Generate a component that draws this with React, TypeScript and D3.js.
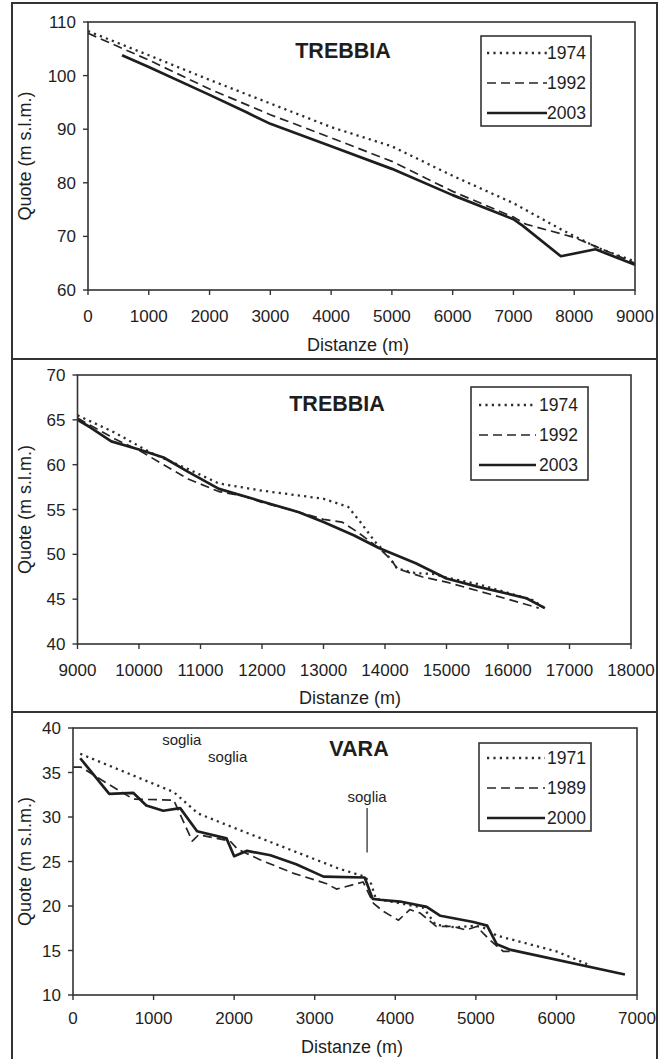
import React from 'react';
import * as d3 from 'd3';

// Trebbia, first reach (0-9000 m)
const t1Dist1974 = [0, 1000, 2000, 3000, 4000, 5000, 6000, 7000, 7800, 8400, 9000];
const t1Quote1974 = [108.3, 103.8, 99.2, 94.8, 90.4, 86.8, 81.3, 76.2, 71.2, 67.8, 65.3];
const t1Dist1992 = [0, 1000, 2000, 3000, 4000, 5000, 6000, 7000, 7200, 8000, 8400, 9000];
const t1Quote1992 = [107.9, 102.9, 97.5, 92.7, 88.4, 84.0, 78.4, 73.6, 72.3, 69.8, 67.9, 65.0];
const t1Dist2003 = [560, 1000, 2000, 2600, 3000, 4000, 5000, 6000, 7000, 7150, 7780, 8350, 9000];
const t1Quote2003 = [103.8, 101.6, 96.4, 93.2, 91.0, 86.8, 82.6, 77.7, 73.2, 72.0, 66.3, 67.6, 64.7];

// Trebbia, second reach (9000-18000 m)
const t2Dist1974 = [9000, 9600, 10200, 10800, 11300, 12000, 13000, 13400, 13600, 13850, 14000, 14200, 14500, 14800, 15000, 15500, 16000, 16400, 16600];
const t2Quote1974 = [65.5, 63.6, 61.3, 59.5, 57.9, 57.1, 56.2, 55.3, 53.6, 51.3, 50.3, 48.4, 47.9, 47.8, 47.4, 46.7, 45.7, 44.9, 44.0];
const t2Dist1992 = [9000, 9600, 10000, 10400, 10800, 11300, 11700, 12000, 12500, 13000, 13300, 13550, 13900, 14100, 14200, 14600, 15000, 16000, 16500];
const t2Quote1992 = [65.2, 62.9, 61.6, 60.0, 58.4, 57.0, 56.5, 55.8, 54.9, 53.9, 53.6, 52.5, 50.7, 49.4, 48.4, 47.5, 46.9, 45.0, 44.0];
const t2Dist2003 = [9000, 9200, 9550, 10000, 10400, 10800, 11300, 12000, 12600, 13000, 13500, 13900, 14500, 15000, 15500, 16000, 16300, 16600];
const t2Quote2003 = [65.0, 64.2, 62.6, 61.7, 60.8, 59.2, 57.3, 55.9, 54.7, 53.6, 52.1, 50.7, 49.0, 47.3, 46.4, 45.6, 45.1, 44.0];

// Vara
const vDist1971 = [90, 1250, 1550, 2050, 3300, 3620, 3700, 3760, 4000, 4350, 4500, 4750, 5000, 5150, 5250, 6000, 6400];
const vQuote1971 = [37.1, 32.8, 30.4, 28.6, 24.2, 23.3, 22.5, 20.8, 20.4, 19.8, 17.9, 17.6, 17.8, 17.4, 16.7, 14.9, 13.4];
const vDist1989 = [0, 100, 330, 750, 1250, 1480, 1560, 1950, 2040, 2320, 2730, 3150, 3270, 3480, 3600, 3730, 3850, 4040, 4180, 4310, 4510, 4720, 4880, 5010, 5170, 5340, 5450];
const vQuote1989 = [35.6, 35.6, 34.3, 32.0, 31.9, 27.3, 28.0, 27.3, 26.4, 25.2, 23.7, 22.5, 21.9, 22.4, 22.7, 20.3, 19.4, 18.4, 19.6, 19.2, 17.7, 17.7, 17.3, 17.7, 16.2, 14.9, 14.9];
const vDist2000 = [90, 450, 750, 910, 1120, 1330, 1540, 1905, 2000, 2160, 2450, 2770, 3110, 3620, 3720, 3810, 4060, 4390, 4560, 4970, 5140, 5260, 5420, 6850];
const vQuote2000 = [36.6, 32.6, 32.7, 31.3, 30.7, 31.0, 28.4, 27.6, 25.6, 26.2, 25.7, 24.7, 23.3, 23.2, 20.8, 20.7, 20.5, 19.9, 18.9, 18.2, 17.8, 15.7, 15.1, 12.3];

const trebbiaYears = ['1974', '1992', '2003'];
const varaYears = ['1971', '1989', '2000'];

const xTicks1 = [0, 1000, 2000, 3000, 4000, 5000, 6000, 7000, 8000, 9000];
const yTicks1 = [60, 70, 80, 90, 100, 110];
const xTicks2 = [9000, 10000, 11000, 12000, 13000, 14000, 15000, 16000, 17000, 18000];
const yTicks2 = [40, 45, 50, 55, 60, 65, 70];
const xTicks3 = [0, 1000, 2000, 3000, 4000, 5000, 6000, 7000];
const yTicks3 = [10, 15, 20, 25, 30, 35, 40];

// soglia labels: [distance, quote]
const sogliaLabels = [[1350, 38.1], [1920, 36.2], [3650, 31.7]];
const sogliaMarker = [3650, 31.0, 26.0];

const INK = '#1e1e1e';
const FONT = 'Liberation Sans, Arial, sans-serif';

const styles = [
  { dash: '2.2 4.2', width: 2.3, color: '#2e2e2e' },
  { dash: '9 5', width: 1.7, color: '#262626' },
  { dash: undefined, width: 2.7, color: INK },
];

type Series = { dist: number[]; quote: number[] };

interface PanelProps {
  left: number; right: number; top: number; bottom: number;
  xDomain: [number, number]; yDomain: [number, number];
  xTicks: number[]; yTicks: number[];
  title: string; titleX: number; titleY: number;
  series: Series[]; years: string[];
  legend: { x0: number; x1: number; y0: number; y1: number; lineX0: number; lineX1: number; textX: number; rows: number[] };
  tickY: number; labelY: number; labelX: number;
  children?: (x: d3.ScaleLinear<number, number>, y: d3.ScaleLinear<number, number>) => React.ReactNode;
}

const Panel: React.FC<PanelProps> = (p) => {
  const x = d3.scaleLinear().domain(p.xDomain).range([p.left, p.right]);
  const y = d3.scaleLinear().domain(p.yDomain).range([p.bottom, p.top]);
  const line = d3.line<[number, number]>().x((d) => x(d[0])).y((d) => y(d[1]));
  const midY = (p.top + p.bottom) / 2;
  return (
    <g>
      {p.series.map((s, i) => (
        <path
          key={i}
          d={line(s.dist.map((d, j) => [d, s.quote[j]] as [number, number])) || ''}
          fill="none"
          stroke={styles[i].color}
          strokeWidth={styles[i].width}
          strokeDasharray={styles[i].dash}
          strokeLinejoin="round"
        />
      ))}
      <rect x={p.left} y={p.top} width={p.right - p.left} height={p.bottom - p.top} fill="none" stroke="#333" strokeWidth={1.6} />
      {p.xTicks.map((t) => (
        <g key={t}>
          <line x1={x(t)} x2={x(t)} y1={p.bottom} y2={p.bottom + 5} stroke="#333" strokeWidth={1.4} />
          <text x={x(t)} y={p.tickY} textAnchor="middle" fontSize={17} fill={INK}>{t}</text>
        </g>
      ))}
      {p.yTicks.map((t) => (
        <g key={t}>
          <line x1={p.left - 5} x2={p.left} y1={y(t)} y2={y(t)} stroke="#333" strokeWidth={1.4} />
          <text x={p.left - 12} y={y(t) + 6} textAnchor="end" fontSize={17} fill={INK}>{t}</text>
        </g>
      ))}
      <text x={p.labelX} y={p.labelY} textAnchor="middle" fontSize={18} fill={INK}>Distanze (m)</text>
      <text transform={`translate(31,${midY}) rotate(-90)`} textAnchor="middle" fontSize={18} fill={INK}>Quote (m s.l.m.)</text>
      <text x={p.titleX} y={p.titleY + 8} textAnchor="middle" fontSize={21.5} fontWeight="bold" fill={INK}>{p.title}</text>
      <rect x={p.legend.x0} y={p.legend.y0} width={p.legend.x1 - p.legend.x0} height={p.legend.y1 - p.legend.y0} fill="#fff" stroke="#333" strokeWidth={1.6} />
      {p.years.map((yr, i) => (
        <g key={yr}>
          <line x1={p.legend.lineX0} x2={p.legend.lineX1} y1={p.legend.rows[i]} y2={p.legend.rows[i]} stroke={styles[i].color} strokeWidth={styles[i].width} strokeDasharray={styles[i].dash} />
          <text x={p.legend.textX} y={p.legend.rows[i] + 6} fontSize={17.5} fill={INK}>{yr}</text>
        </g>
      ))}
      {p.children && p.children(x, y)}
    </g>
  );
};

export default function App() {
  return (
    <div style={{ position: 'absolute', left: 0, top: 0 }}>
      <svg width={664} height={1059} style={{ display: 'block', fontFamily: FONT }}>
        <rect width={664} height={1059} fill="#fff" />
        <rect x={12} y={3} width={645} height={1070} fill="none" stroke="#333" strokeWidth={2} />
        <line x1={12} x2={657} y1={359} y2={359} stroke="#333" strokeWidth={2} />
        <line x1={12} x2={657} y1={712} y2={712} stroke="#333" strokeWidth={2} />

        <Panel
          left={88} right={635} top={22} bottom={290}
          xDomain={[0, 9000]} yDomain={[60, 110]}
          xTicks={xTicks1} yTicks={yTicks1}
          title="TREBBIA" titleX={343} titleY={50}
          series={[
            { dist: t1Dist1974, quote: t1Quote1974 },
            { dist: t1Dist1992, quote: t1Quote1992 },
            { dist: t1Dist2003, quote: t1Quote2003 },
          ]}
          years={trebbiaYears}
          legend={{ x0: 481, x1: 591, y0: 36, y1: 126, lineX0: 487, lineX1: 547, textX: 547, rows: [53, 83, 113] }}
          tickY={322} labelY={351} labelX={358}
        />

        <Panel
          left={77.5} right={631} top={375} bottom={644}
          xDomain={[9000, 18000]} yDomain={[40, 70]}
          xTicks={xTicks2} yTicks={yTicks2}
          title="TREBBIA" titleX={337} titleY={403}
          series={[
            { dist: t2Dist1974, quote: t2Quote1974 },
            { dist: t2Dist1992, quote: t2Quote1992 },
            { dist: t2Dist2003, quote: t2Quote2003 },
          ]}
          years={trebbiaYears}
          legend={{ x0: 471, x1: 588, y0: 387, y1: 480, lineX0: 479, lineX1: 536, textX: 539, rows: [405, 435, 465] }}
          tickY={676} labelY={704} labelX={350}
        />

        <Panel
          left={73} right={637} top={728} bottom={995}
          xDomain={[0, 7000]} yDomain={[10, 40]}
          xTicks={xTicks3} yTicks={yTicks3}
          title="VARA" titleX={359} titleY={748}
          series={[
            { dist: vDist1971, quote: vQuote1971 },
            { dist: vDist1989, quote: vQuote1989 },
            { dist: vDist2000, quote: vQuote2000 },
          ]}
          years={varaYears}
          legend={{ x0: 479, x1: 591, y0: 743, y1: 831, lineX0: 487, lineX1: 545, textX: 547, rows: [758, 788, 818] }}
          tickY={1024} labelY={1053} labelX={352}
        >
          {(x, y) => (
            <g>
              {sogliaLabels.map(([d, q], i) => (
                <text key={i} x={x(d)} y={y(q)} textAnchor="middle" fontSize={15} fill={INK}>soglia</text>
              ))}
              <line x1={x(sogliaMarker[0])} x2={x(sogliaMarker[0])} y1={y(sogliaMarker[1])} y2={y(sogliaMarker[2])} stroke="#333" strokeWidth={1.3} />
            </g>
          )}
        </Panel>
      </svg>
    </div>
  );
}
